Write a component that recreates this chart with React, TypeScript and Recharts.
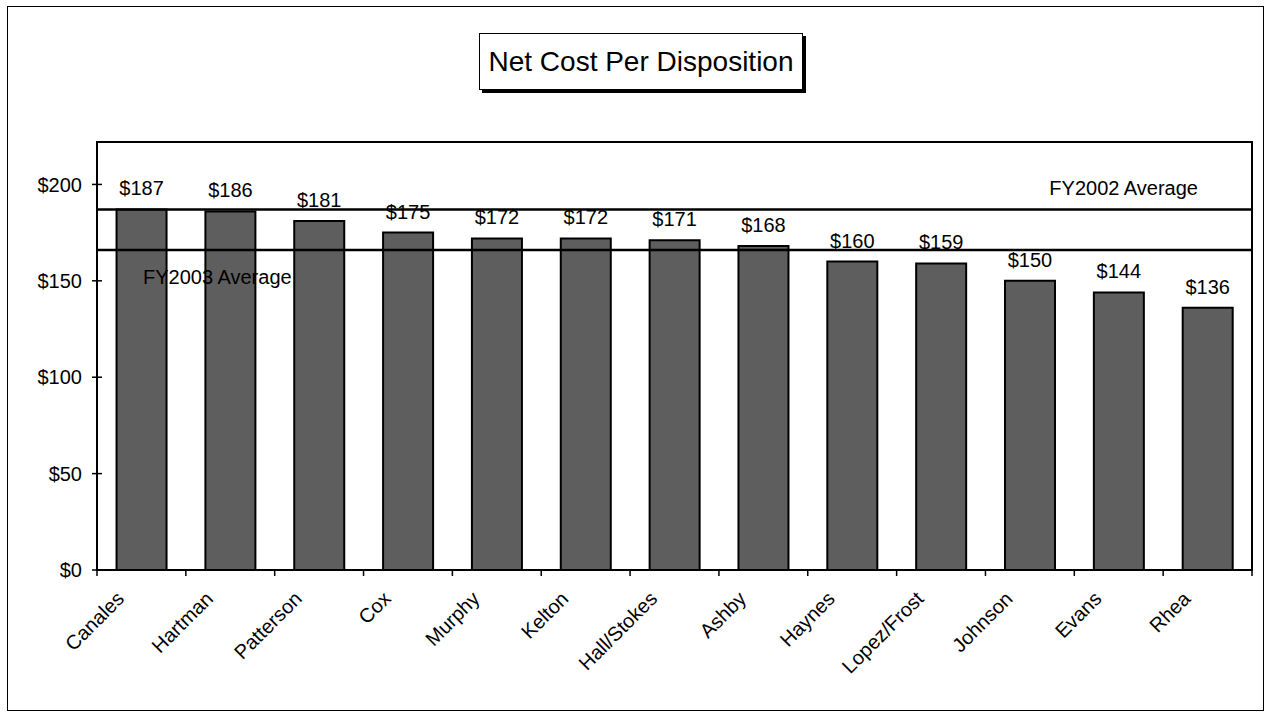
import React from 'react';
import { BarChart, Bar, XAxis, YAxis, ReferenceLine, LabelList } from 'recharts';

const categories = ['Canales', 'Hartman', 'Patterson', 'Cox', 'Murphy', 'Kelton', 'Hall/Stokes', 'Ashby', 'Haynes', 'Lopez/Frost', 'Johnson', 'Evans', 'Rhea'];
const costs = [187, 186, 181, 175, 172, 172, 171, 168, 160, 159, 150, 144, 136];
const yTicks = [0, 50, 100, 150, 200];
const fy2002Average = 187;
const fy2003Average = 166;
const chartTitle = 'Net Cost Per Disposition';

const data = categories.map((name, i) => ({ name, cost: costs[i] }));

const FONT = '"Liberation Sans", Arial, Helvetica, sans-serif';

const XTick = (props: any) => {
  const { x, y, payload, index } = props;
  const off = payload && payload.offset ? payload.offset : 44.4;
  const ax = x - 16;
  const ay = y + 30;
  return (
    <g>
      <line x1={x - off} y1={y} x2={x - off} y2={y + 6} stroke="#000" strokeWidth={1.5} />
      {index === categories.length - 1 && (
        <line x1={x + off} y1={y} x2={x + off} y2={y + 6} stroke="#000" strokeWidth={1.5} />
      )}
      <text x={ax} y={ay} transform={`rotate(-45, ${ax}, ${ay})`} textAnchor="end" fontSize={20} fontFamily={FONT} fill="#000">
        {payload.value}
      </text>
    </g>
  );
};

const YTick = (props: any) => {
  const { x, y, payload } = props;
  return (
    <g>
      <line x1={x + 10} y1={y} x2={x + 20} y2={y} stroke="#000" strokeWidth={1.5} />
      <text x={x} y={y} dy="0.36em" textAnchor="end" fontSize={20} fontFamily={FONT} fill="#000">
        {`$${payload.value}`}
      </text>
    </g>
  );
};

const AvgLabel = (props: any) => {
  const { viewBox, text, side } = props;
  if (!viewBox) return null;
  const { x, y, width } = viewBox;
  if (side === 'right') {
    return (
      <text x={x + width - 54} y={y - 22} dy="0.36em" textAnchor="end" fontSize={20} fontFamily={FONT} fill="#000">
        {text}
      </text>
    );
  }
  return (
    <text x={x + 46} y={y + 27} dy="0.36em" textAnchor="start" fontSize={20} fontFamily={FONT} fill="#000">
      {text}
    </text>
  );
};

export default function App() {
  return (
    <div style={{ position: 'absolute', left: 0, top: 0, width: 1267, height: 726, background: '#fff', fontFamily: FONT }}>
      <div style={{ position: 'absolute', left: 7, top: 6, width: 1257, height: 705, border: '1.5px solid #000', boxSizing: 'border-box' }} />
      <div
        style={{
          position: 'absolute',
          left: 479,
          top: 33,
          width: 324,
          height: 57,
          border: '1.5px solid #000',
          boxShadow: '3px 3px 0 #000',
          boxSizing: 'border-box',
          display: 'flex',
          alignItems: 'center',
          justifyContent: 'center',
          fontSize: 28,
          color: '#000',
          background: '#fff',
        }}
      >
        {chartTitle}
      </div>
      <div style={{ position: 'absolute', left: 0, top: 0 }}>
        <BarChart
          width={1267}
          height={726}
          data={data}
          margin={{ top: 142, right: 15, left: 0, bottom: 56 }}
          barCategoryGap="22%"
        >
          <XAxis
            dataKey="name"
            height={100}
            interval={0}
            tickSize={0}
            tickMargin={0}
            tickLine={false}
            axisLine={{ stroke: '#000', strokeWidth: 2 }}
            tick={(p: any) => <XTick {...p} />}
          />
          <YAxis
            width={97}
            domain={[0, 222]}
            ticks={yTicks}
            interval={0}
            tickSize={0}
            tickMargin={15}
            tickLine={false}
            axisLine={{ stroke: '#000', strokeWidth: 2 }}
            tick={(p: any) => <YTick {...p} />}
          />
          <Bar dataKey="cost" fill="#5e5e5e" stroke="#000" strokeWidth={2} isAnimationActive={false}>
            <LabelList
              dataKey="cost"
              position="top"
              offset={14}
              formatter={(v: any) => `$${v}`}
              style={{ fontSize: 20, fontFamily: FONT, fill: '#000' }}
            />
          </Bar>
          <ReferenceLine y={fy2002Average} stroke="#000" strokeWidth={2.5} label={<AvgLabel text="FY2002 Average" side="right" />} />
          <ReferenceLine y={fy2003Average} stroke="#000" strokeWidth={2.5} label={<AvgLabel text="FY2003 Average" side="left" />} />
        </BarChart>
      </div>
      <div style={{ position: 'absolute', left: 96, top: 141, width: 1157, height: 430, border: '2px solid #000', boxSizing: 'border-box', pointerEvents: 'none' }} />
    </div>
  );
}
